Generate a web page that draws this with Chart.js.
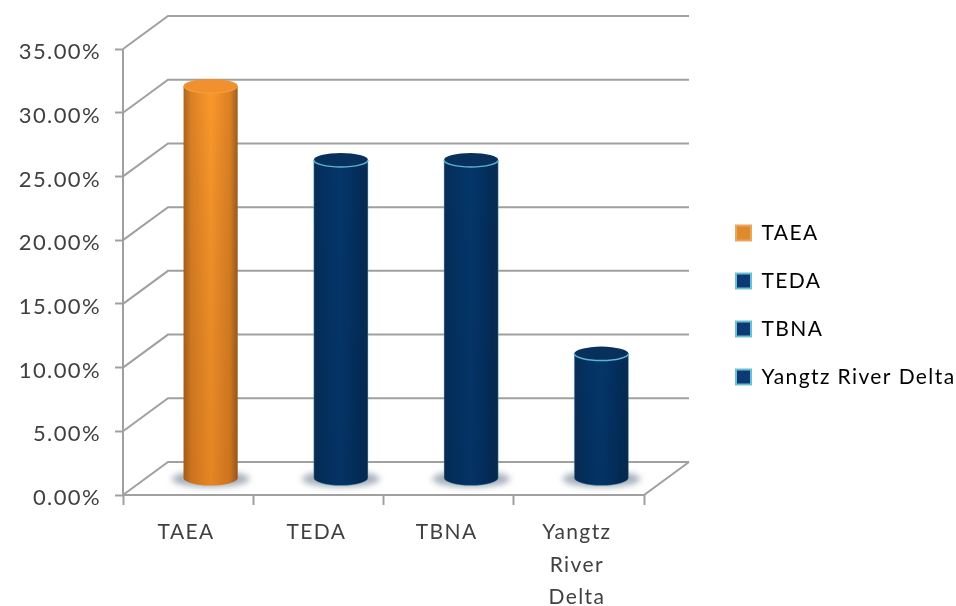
<!DOCTYPE html>
<html>
<head>
<meta charset="utf-8">
<title>Chart</title>
<script src="https://cdn.jsdelivr.net/npm/chart.js@4"></script>
<style>
  html, body { margin: 0; padding: 0; background: #fff; }
  canvas { display: block; filter: blur(0.5px); }
</style>
</head>
<body>
<canvas id="myChart" width="956" height="606"></canvas>
<script>
const categories = ["TAEA", "TEDA", "TBNA", "Yangtz River Delta"];
const tickLines = [["TAEA"], ["TEDA"], ["TBNA"], ["Yangtz", "River", "Delta"]];
const values = [30.8, 25, 25, 9.8];
const yTicksMax = 35;
const yTicksStep = 5;

const depthX = 45, depthY = -33;
const gridColor = "#a0a0a0";
const textColor = "#404040";
const orange = ["#a9651f", "#dc8124", "#fb982b", "#dc8124", "#9c5e20"];
const blue = ["#0c2c54", "#03305f", "#04366b", "#032c58", "#0a2a50"];
const barStops = [orange, blue, blue, blue];

function barGradient(ctx, x, w, colors) {
  const g = ctx.createLinearGradient(x - w / 2, 0, x + w / 2, 0);
  const pos = [0, 0.14, 0.5, 0.86, 1];
  colors.forEach((c, i) => g.addColorStop(pos[i], c));
  return g;
}

const fake3d = {
  id: "fake3d",
  beforeLayout(chart) {
    const lg = chart.legend;
    if (!lg._wrapped) {
      const fit = lg.fit;
      lg.fit = function () { fit.call(this); this.width = 312; };
      lg._wrapped = true;
    }
  },
  afterLayout(chart) {
    const lg = chart.legend;
    lg.left = 709; lg.right = 956;
    lg.top = 100; lg.bottom = 510;
  },
  beforeDraw(chart) {
    chart.ctx.letterSpacing = "1.4px";
  },
  beforeDatasetsDraw(chart) {
    const ctx = chart.ctx, y = chart.scales.y, area = chart.chartArea;
    ctx.save();
    ctx.strokeStyle = gridColor;
    ctx.lineWidth = 2;
    ctx.beginPath();
    y.ticks.forEach(t => {
      const py = y.getPixelForValue(t.value);
      ctx.moveTo(area.left, py);
      ctx.lineTo(area.left + depthX, py + depthY);
      ctx.lineTo(area.right + depthX, py + depthY);
    });
    ctx.moveTo(area.left, area.top);
    ctx.lineTo(area.left, area.bottom);
    ctx.lineTo(area.right, area.bottom);
    ctx.lineTo(area.right + depthX, area.bottom + depthY);
    ctx.stroke();
    ctx.restore();

    const meta = chart.getDatasetMeta(0);
    ctx.save();
    ctx.translate(depthX / 2, depthY / 2);
    // floor shadow
    ctx.save();
    ctx.filter = "blur(3px)";
    ctx.fillStyle = "#a4adb9";
    meta.data.forEach(b => {
      ctx.beginPath();
      ctx.ellipse(b.x, b.base + 1, b.width / 2 + 12, 8, 0, 0, Math.PI * 2);
      ctx.fill();
    });
    ctx.restore();
    // round foot of each cylinder
    meta.data.forEach((b, i) => {
      ctx.fillStyle = barGradient(ctx, b.x, b.width, barStops[i]);
      ctx.beginPath();
      ctx.ellipse(b.x, b.base, b.width / 2, 7.5, 0, 0, Math.PI * 2);
      ctx.fill();
    });
  },
  afterDatasetsDraw(chart) {
    const ctx = chart.ctx;
    const meta = chart.getDatasetMeta(0);
    meta.data.forEach((b, i) => {
      const isOrange = i === 0;
      // darker towards the foot
      const v = ctx.createLinearGradient(0, b.y, 0, b.base + 8);
      v.addColorStop(0, "rgba(0,0,0,0)");
      v.addColorStop(1, isOrange ? "rgba(120,40,0,0.16)" : "rgba(0,0,0,0.06)");
      ctx.fillStyle = v;
      ctx.beginPath();
      ctx.moveTo(b.x - b.width / 2, b.y);
      ctx.lineTo(b.x - b.width / 2, b.base);
      ctx.ellipse(b.x, b.base, b.width / 2, 7.5, 0, Math.PI, 0, true);
      ctx.lineTo(b.x + b.width / 2, b.y);
      ctx.closePath();
      ctx.fill();
      // side rims
      if (!isOrange) {
        ctx.strokeStyle = "rgba(95,176,208,0.4)";
        ctx.lineWidth = 1;
        ctx.beginPath();
        ctx.moveTo(b.x - b.width / 2, b.y);
        ctx.lineTo(b.x - b.width / 2, b.base);
        ctx.ellipse(b.x, b.base, b.width / 2, 7.5, 0, Math.PI, 0, true);
        ctx.lineTo(b.x + b.width / 2, b.y);
        ctx.stroke();
      }
      // top cap, light only along the front edge
      ctx.fillStyle = isOrange ? "#f0902f" : "#08305c";
      ctx.beginPath();
      ctx.ellipse(b.x, b.y, b.width / 2, 7, 0, 0, Math.PI * 2);
      ctx.fill();
      ctx.strokeStyle = isOrange ? "#f6a23f" : "#5fb3d0";
      ctx.lineWidth = isOrange ? 1 : 1.5;
      ctx.beginPath();
      ctx.ellipse(b.x, b.y, b.width / 2, 7, 0, 0, Math.PI);
      ctx.stroke();
    });
    ctx.restore();
  }
};

new Chart(document.getElementById("myChart"), {
  type: "bar",
  plugins: [fake3d],
  data: {
    labels: categories,
    datasets: [{
      label: "Share",
      data: values,
      clip: false,
      barPercentage: 54 / 130,
      categoryPercentage: 1,
      backgroundColor(c) {
        const chart = c.chart;
        if (!chart.chartArea || c.dataIndex === undefined) return "#04366b";
        const x = chart.scales.x.getPixelForValue(c.dataIndex);
        return barGradient(chart.ctx, x, 54, barStops[c.dataIndex]);
      }
    }]
  },
  options: {
    responsive: false,
    animation: false,
    layout: { padding: { top: 49, right: 0, bottom: 0, left: 0 } },
    plugins: {
      tooltip: { enabled: false },
      legend: {
        position: "right",
        labels: {
          color: textColor,
          font: { family: "Lato", size: 21 },
          boxWidth: 15,
          boxHeight: 15,
          padding: 27,
          generateLabels: () => categories.map((name, i) => ({
            text: name,
            fillStyle: i === 0 ? "#e08a2e" : "#0d3a74",
            strokeStyle: i === 0 ? "#e8a860" : "#6cc0d4",
            lineWidth: 2,
            index: i
          }))
        }
      }
    },
    scales: {
      x: {
        afterFit(s) { s.height = 111; },
        border: { display: false },
        grid: {
          offset: true,
          drawOnChartArea: false,
          drawTicks: true,
          tickLength: 10,
          tickWidth: 2,
          color: gridColor
        },
        ticks: {
          autoSkip: false,
          maxRotation: 0,
          color: textColor,
          padding: 11,
          labelOffset: -2,
          font: { family: "Lato", size: 21, lineHeight: 1.55 },
          callback: (v, i) => tickLines[i]
        }
      },
      y: {
        min: 0,
        max: yTicksMax,
        afterFit(s) { s.width = 123; },
        border: { display: false },
        grid: {
          drawOnChartArea: false,
          drawTicks: true,
          tickLength: 8,
          tickWidth: 2,
          color: gridColor
        },
        ticks: {
          stepSize: yTicksStep,
          color: textColor,
          padding: 14,
          labelOffset: 3,
          font: { family: "Lato", size: 22 },
          callback: v => v.toFixed(2) + "%"
        }
      }
    }
  }
});
</script>
</body>
</html>
